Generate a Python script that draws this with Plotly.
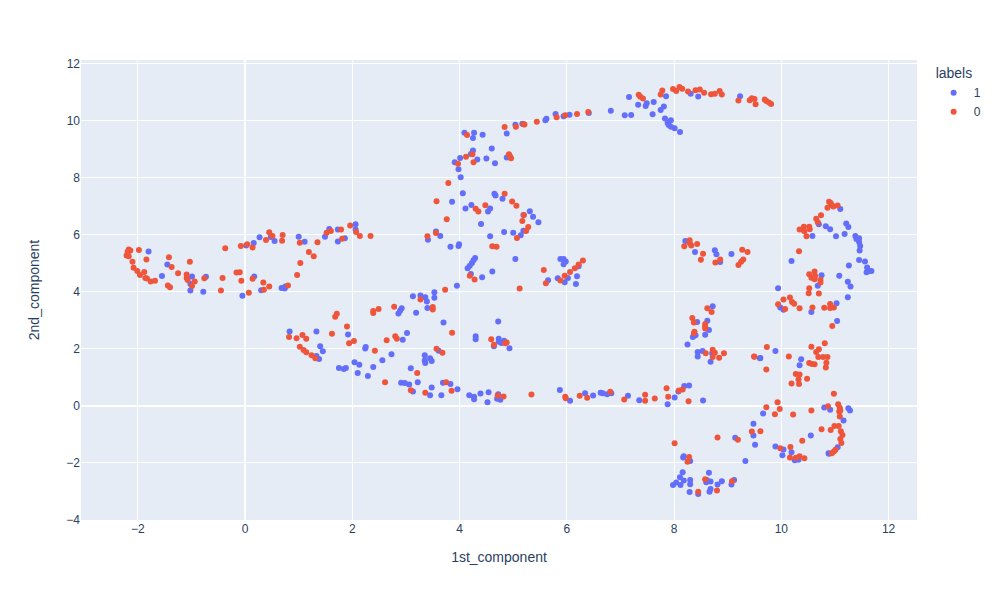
import plotly.graph_objects as go

x_label_1 = [-1.80,-1.45,-1.55,-0.99,-0.73,-1.02,-1.02,-0.78,-0.05,0.17,0.30,0.68,0.74,0.75,0.02,0.16,0.27,0.48,0.55,1.00,1.11,1.49,1.57,1.73,1.86,1.73,2.06,2.06,
 0.83,1.33,1.92,1.40,1.45,1.33,1.38,1.75,1.84,1.88,2.04,2.13,2.10,2.29,2.39,2.56,2.73,2.25,2.24,2.94,3.02,2.86,2.89,2.92,3.19,3.13,3.27,3.36,3.39,3.53,3.53,3.40,3.95,3.70,3.35,3.35,3.36,3.45,3.48,3.61,3.09,3.22,2.91,2.98,3.06,3.13,3.48,3.45,3.66,3.69,3.83,3.96,4.18,4.27,4.27,4.39,4.54,4.52,4.72,4.70,4.76,4.30,4.30,4.72,4.73,4.73,4.83,4.64,4.93,4.78,
 5.87,6.06,6.34,6.49,6.63,6.67,6.75,6.83,7.14,7.35,7.88,8.01,8.08,8.19,8.28,8.54,
 4.09,4.27,4.25,4.43,4.88,5.04,5.17,5.60,4.60,4.25,4.21,4.01,3.91,4.33,4.50,4.66,4.88,3.98,4.02,4.06,4.65,4.67,4.80,3.86,4.22,4.11,4.57,4.53,5.31,5.37,5.47,5.19,4.40,4.83,5.00,5.19,5.14,3.56,3.64,3.41,4.57,3.83,3.99,3.98,5.04,4.29,4.26,4.23,4.19,4.15,4.21,4.42,4.61,5.88,5.94,5.98,5.94,6.22,5.83,6.02,5.96,6.19,6.17,5.65,
 5.62,5.79,5.94,6.05,6.41,6.82,7.08,7.20,7.16,7.33,7.47,7.49,7.62,7.60,7.75,7.81,7.85,7.83,7.94,7.88,7.90,7.94,8.01,8.11,8.31,8.45,9.23,
 8.21,8.39,8.76,8.79,8.86,9.07,8.72,8.43,8.62,8.65,8.58,8.40,8.35,8.25,8.44,8.44,8.53,8.71,8.68,9.60,
 11.10,10.70,10.83,10.91,10.58,11.02,11.18,11.21,11.25,11.38,11.40,11.45,11.45,11.47,11.46,10.19,11.26,11.45,11.56,11.60,11.59,11.64,11.68,10.75,11.08,11.24,11.29,10.68,9.94,11.24,9.98,10.04,11.03,10.56,11.04,9.89,9.61,10.37,10.34,
 9.66,9.48,9.48,9.51,9.33,9.14,9.89,10.04,10.02,10.19,10.25,10.32,10.55,10.80,10.91,11.25,11.28,11.16,11.05,10.88,10.89,8.18,8.17,8.30,8.16,8.11,8.18,8.04,7.98,8.12,8.30,8.30,8.29,8.45,8.65,8.60,8.68,8.61,8.68,8.66,8.81,8.89,9.12,9.07]
y_label_1 = [5.41,4.95,4.55,4.53,4.52,4.27,4.04,4.00,3.86,4.53,4.05,4.13,4.11,4.18,5.62,5.71,5.91,5.92,5.78,5.93,5.75,5.93,6.20,6.18,5.87,5.76,6.36,6.18,
 2.61,2.61,2.50,2.09,1.91,1.75,1.64,1.33,1.29,1.33,1.53,1.44,1.15,1.05,1.36,1.60,1.81,2.06,2.01,2.32,2.55,3.24,3.33,3.42,3.26,3.84,3.87,3.81,3.66,3.98,3.79,3.43,4.21,2.92,1.77,1.59,1.50,1.67,1.57,1.93,1.32,0.83,0.81,0.80,0.75,0.50,0.64,0.37,0.37,0.81,0.77,0.58,0.37,0.32,0.23,0.43,0.48,0.13,0.41,0.25,0.21,2.44,2.33,2.96,2.35,2.25,2.28,2.09,2.02,2.20,
 0.56,0.18,0.44,0.36,0.46,0.44,0.41,0.44,0.35,0.20,0.06,0.29,0.50,0.70,0.71,0.19,
 9.57,9.57,9.39,9.50,9.54,9.85,9.89,10.01,9.02,8.95,8.83,8.69,8.54,8.63,8.67,8.50,8.70,8.29,8.01,7.45,7.43,7.37,7.26,7.15,7.04,6.92,6.92,6.81,6.82,6.63,6.43,6.69,6.37,6.09,6.07,6.14,5.98,6.11,5.95,5.82,5.94,5.58,5.66,5.60,5.15,5.18,5.10,5.01,4.91,4.82,4.62,4.51,4.71,5.15,5.15,5.06,4.96,4.89,4.47,4.48,4.33,4.54,4.27,4.40,
 10.06,10.23,10.15,10.20,10.26,10.34,10.18,10.19,10.82,10.55,10.51,10.60,10.65,10.22,10.37,10.49,10.85,10.07,10.01,9.91,9.84,9.78,9.73,9.60,10.94,10.84,10.85,
 5.78,5.39,5.45,5.31,5.04,5.32,3.49,2.94,2.98,2.66,2.49,2.47,2.41,2.15,1.89,1.73,1.92,1.84,1.55,1.67,
 6.90,6.36,6.29,6.19,5.95,5.94,6.02,6.39,6.27,5.95,5.85,5.87,5.74,5.60,5.44,5.08,4.92,5.11,5.06,4.85,4.68,4.73,4.73,4.58,4.56,4.35,4.18,4.21,4.12,3.81,3.45,3.37,3.60,3.29,2.97,1.92,1.68,1.63,1.42,
 -0.27,-0.63,-1.04,-1.36,-1.93,-1.12,-1.42,-1.53,-1.73,-1.63,-1.91,-1.89,-1.04,-0.06,-0.14,-0.08,-0.16,-0.51,-1.45,-1.66,-1.68,-1.77,-1.81,-1.93,-2.33,-2.50,-2.62,-2.69,-2.77,-2.77,-2.60,-2.75,-3.02,-3.09,-2.34,-2.68,-2.65,-2.60,-2.91,-3.01,-2.76,-2.64,-2.60,-2.76]

x_label_0 = [-2.17,-2.14,-2.19,-2.21,-2.17,-1.98,-2.10,-1.84,-1.42,-1.03,-1.37,-2.08,-2.01,-1.88,-1.96,-1.86,-1.83,-1.76,-1.68,-1.25,-1.09,-1.09,-1.07,-0.94,-0.99,-1.44,-1.40,-0.76,-0.42,-0.45,-0.37,-0.16,-0.10,-0.07,0.14,0.34,0.45,0.35,0.07,-0.08,0.04,0.14,0.39,0.45,0.51,0.70,0.69,1.02,1.35,1.19,1.28,1.03,0.97,0.80,1.52,1.60,1.79,1.81,1.96,2.07,2.14,2.34,
 0.82,0.96,1.07,1.14,1.02,1.09,1.14,1.24,1.31,1.62,1.68,1.71,1.90,1.94,2.03,2.39,2.39,2.49,2.78,2.42,2.64,2.80,2.83,3.27,3.50,3.50,3.73,5.12,3.86,3.57,3.68,3.21,2.61,3.09,3.36,3.75,3.85,4.71,4.82,5.34,4.59,4.64,4.85,4.88,
 5.97,5.98,6.24,6.38,6.81,7.07,7.46,7.46,7.64,7.86,7.89,8.09,8.16,8.27,
 4.84,5.05,5.19,5.21,5.44,4.14,4.24,4.12,4.26,3.97,4.92,4.94,4.96,3.79,3.57,4.84,4.98,5.06,4.48,4.30,4.35,5.20,5.17,3.76,5.28,5.24,5.07,3.40,3.56,4.61,4.69,4.19,4.28,5.57,6.30,6.22,6.15,6.06,5.96,5.88,5.61,
 5.81,5.97,6.19,6.40,7.34,7.37,7.42,7.75,7.78,7.98,8.04,8.10,8.15,8.26,8.40,8.48,8.56,8.69,8.76,8.85,8.89,9.20,9.41,9.45,9.50,9.52,9.69,9.72,9.77,9.81,
 8.29,8.29,8.19,8.32,8.43,8.54,8.50,8.77,8.86,9.27,9.37,9.29,9.25,9.20,8.62,8.70,8.34,8.37,8.58,8.58,8.58,8.38,8.37,8.59,8.72,8.76,8.72,8.84,8.93,9.50,
 10.89,10.92,10.94,10.86,10.97,11.05,10.74,10.65,10.68,10.52,10.53,10.42,10.34,10.40,10.43,10.47,10.33,10.52,10.62,10.56,10.62,10.63,10.73,10.73,10.52,10.51,10.70,10.04,10.16,10.20,10.24,9.94,10.07,10.34,10.58,10.80,10.91,10.91,10.98,10.95,10.81,10.56,10.70,10.65,9.73,9.49,10.14,10.69,10.78,10.86,10.84,10.83,10.52,10.57,10.62,9.72,10.27,10.34,10.32,10.33,10.19,10.48,10.98,
 9.72,9.93,9.97,9.88,10.22,10.56,10.87,11.06,11.09,11.10,11.08,11.09,9.45,9.61,8.81,9.19,10.39,10.17,9.98,10.16,10.27,10.34,10.43,10.75,10.92,10.99,11.07,11.11,11.14,11.10,11.12,11.01,10.98,10.94,8.01,8.28,8.25,8.58,8.45,8.80,9.08]
y_label_0 = [5.48,5.44,5.40,5.27,5.24,5.46,5.05,5.13,5.21,5.05,4.87,4.84,4.73,4.69,4.59,4.48,4.46,4.36,4.38,4.65,4.60,4.48,4.41,4.36,4.20,4.22,4.16,4.47,4.48,4.04,5.52,4.67,4.68,4.38,4.45,4.32,4.18,4.07,3.96,5.60,5.66,5.55,5.81,6.08,5.95,5.99,5.79,5.72,5.73,5.39,5.24,5.01,4.59,4.22,6.07,6.13,6.18,5.86,6.32,6.09,5.95,5.95,
 2.41,2.37,2.48,2.35,2.07,1.96,1.88,1.77,1.67,2.53,3.12,3.23,2.78,2.19,2.27,3.32,3.25,3.39,3.47,1.93,2.30,2.44,2.35,3.73,3.46,3.38,4.07,4.11,2.56,2.00,1.86,1.15,0.83,0.55,0.46,0.83,0.53,0.36,0.33,0.40,2.33,2.14,2.19,2.22,
 0.32,0.27,0.35,0.28,0.49,0.22,0.39,0.18,0.26,0.62,0.32,0.54,0.57,0.16,
 9.77,9.78,9.87,9.86,9.96,9.49,8.82,8.73,8.54,8.48,8.82,8.75,8.68,7.81,7.17,7.43,7.16,7.01,7.03,6.91,6.81,6.69,6.48,6.54,6.27,6.13,5.88,5.94,6.06,5.59,5.58,4.56,4.43,4.76,5.09,4.95,4.82,4.69,4.56,4.39,4.30,
 10.11,10.18,10.23,10.30,10.90,10.83,10.77,10.91,11.05,11.10,11.03,11.17,11.11,11.02,11.06,11.09,10.97,10.92,10.94,11.03,10.91,10.70,10.71,10.78,10.75,10.57,10.74,10.68,10.63,10.58,
 5.80,5.71,5.59,5.62,5.67,5.33,5.12,5.02,5.13,5.47,5.39,5.13,5.05,4.94,3.42,3.29,3.08,2.92,2.87,2.79,2.71,2.60,2.54,1.84,1.97,1.86,1.71,1.69,1.84,1.72,
 7.15,7.11,7.03,6.94,6.99,7.02,6.68,6.56,6.43,6.28,6.19,6.28,6.18,6.18,6.12,5.94,5.42,4.61,4.71,4.49,4.44,4.56,4.42,4.32,4.12,3.95,3.94,3.73,3.80,3.64,3.58,3.56,3.39,3.42,3.45,3.44,3.57,3.43,3.45,2.80,2.19,2.07,1.98,1.89,2.06,1.73,1.73,1.71,1.71,1.71,1.51,1.34,1.50,1.47,1.46,1.27,1.12,1.10,0.92,0.77,0.78,0.95,0.42,
 -0.05,0.13,-0.11,-0.29,-0.30,-0.16,-0.01,0.06,-0.07,-0.16,-0.20,-0.37,-0.90,-0.89,-1.11,-1.19,-1.22,-1.44,-1.49,-1.81,-1.82,-1.77,-1.84,-0.82,-0.85,-0.71,-0.71,-0.89,-1.02,-1.16,-1.30,-1.54,-1.60,-1.66,-1.31,-1.79,-1.96,-2.57,-3.01,-2.97,-2.64]

fig = go.Figure()
fig.add_trace(go.Scatter(x=x_label_1, y=y_label_1, mode="markers", name="1", legendgroup="1",
                         marker=dict(color="#636efa", symbol="circle")))
fig.add_trace(go.Scatter(x=x_label_0, y=y_label_0, mode="markers", name="0", legendgroup="0",
                         marker=dict(color="#EF553B", symbol="circle")))
fig.update_layout(
    template="plotly",
    font=dict(family="Liberation Sans, Arial, sans-serif"),
    legend=dict(title=dict(text="labels"), tracegroupgap=0, xref="container", x=0.9407, xanchor="left"),
    margin=dict(t=52, l=73, b=72, r=75),
    xaxis=dict(title=dict(text="1st_component", standoff=17), range=[-3.06, 12.53], automargin=False),
    yaxis=dict(title=dict(text="2nd_component", standoff=23), range=[-4.0, 12.12], automargin=False),
)
fig.write_html("out.html")
